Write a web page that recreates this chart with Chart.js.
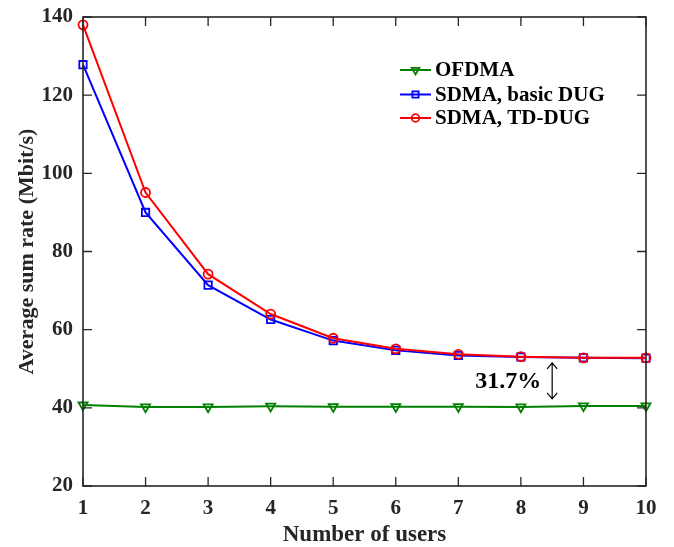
<!DOCTYPE html>
<html>
<head>
<meta charset="utf-8">
<script src="https://cdn.jsdelivr.net/npm/chart.js@4/dist/chart.umd.min.js"></script>
<style>
  html, body { margin: 0; padding: 0; background: #fff; }
  #wrap { width: 674px; height: 547px; }
</style>
</head>
<body>
<div id="wrap"><canvas id="c" width="674" height="547"></canvas></div>
<script>
// ---- data ----
const users = [1, 2, 3, 4, 5, 6, 7, 8, 9, 10];
const ofdma = [40.7, 40.2, 40.2, 40.4, 40.3, 40.3, 40.3, 40.2, 40.5, 40.5];
const sdmaBasic = [127.8, 90.0, 71.4, 62.6, 57.2, 54.7, 53.4, 53.0, 52.8, 52.7];
const sdmaTD = [138.0, 95.1, 74.2, 64.0, 57.8, 55.1, 53.7, 53.1, 52.8, 52.8];
const seriesNames = ['OFDMA', 'SDMA, basic DUG', 'SDMA, TD-DUG'];
const xTicks = [1, 2, 3, 4, 5, 6, 7, 8, 9, 10];
const yTicks = [20, 40, 60, 80, 100, 120, 140];
const gapLabel = '31.7%';
const gapX = [8.5];
const gapRange = [42.3, 51.5];

const FONT = "'Liberation Serif', 'Times New Roman', serif";
const TXT = '#262626';

const toPts = (ys) => users.map((u, i) => ({ x: u, y: ys[i] }));

const boxPlugin = {
  id: 'boxPlugin',
  afterDatasetsDraw(chart) {
    const { ctx, chartArea: a, scales: { x, y } } = chart;
    ctx.save();
    ctx.strokeStyle = TXT;
    ctx.lineWidth = 1.6;
    ctx.strokeRect(a.left, a.top, a.right - a.left, a.bottom - a.top);
    const tl = 9;
    ctx.lineWidth = 1.3;
    ctx.beginPath();
    xTicks.forEach(v => {
      const px = x.getPixelForValue(v);
      ctx.moveTo(px, a.bottom); ctx.lineTo(px, a.bottom - tl);
      ctx.moveTo(px, a.top); ctx.lineTo(px, a.top + tl);
    });
    yTicks.forEach(v => {
      const py = y.getPixelForValue(v);
      ctx.moveTo(a.left, py); ctx.lineTo(a.left + tl, py);
      ctx.moveTo(a.right, py); ctx.lineTo(a.right - tl, py);
    });
    ctx.stroke();

    // annotation arrow + label
    const ax = x.getPixelForValue(gapX[0]);
    const y1 = y.getPixelForValue(gapRange[1]);
    const y2 = y.getPixelForValue(gapRange[0]);
    ctx.strokeStyle = '#000';
    ctx.lineWidth = 1.2;
    ctx.beginPath();
    ctx.moveTo(ax, y1); ctx.lineTo(ax, y2);
    ctx.moveTo(ax - 5, y1 + 6); ctx.lineTo(ax, y1); ctx.lineTo(ax + 5, y1 + 6);
    ctx.moveTo(ax - 5, y2 - 6); ctx.lineTo(ax, y2); ctx.lineTo(ax + 5, y2 - 6);
    ctx.stroke();
    ctx.fillStyle = '#000';
    ctx.font = 'bold 24px ' + FONT;
    ctx.textAlign = 'right';
    ctx.textBaseline = 'middle';
    ctx.fillText(gapLabel, ax - 11, (y1 + y2) / 2 + 1);

    // legend
    const lx0 = 400, lx1 = 431, tx = 435;
    const rows = [70, 94.5, 118];
    ctx.textAlign = 'left';
    chart.data.datasets.forEach((ds, i) => {
      const ry = rows[i];
      ctx.strokeStyle = ds.borderColor;
      ctx.lineWidth = 2;
      ctx.beginPath();
      ctx.moveTo(lx0, ry); ctx.lineTo(lx1, ry);
      ctx.stroke();
      ctx.fillStyle = 'rgba(0,0,0,0)';
      ctx.lineWidth = 1.8;
      Chart.helpers.drawPoint(ctx, {
        pointStyle: ds.pointStyle, rotation: ds.pointRotation || 0,
        radius: ds.pointRadius * 0.85, borderWidth: 1.8
      }, (lx0 + lx1) / 2, ry);
      ctx.fillStyle = '#000';
      ctx.font = 'bold 21px ' + FONT;
      ctx.fillText(ds.label, tx, ry + 1);
    });
    ctx.restore();
  }
};

const mk = (label, data, color, style, radius, rot, order) => ({
  label, data: toPts(data), borderColor: color, backgroundColor: 'rgba(0,0,0,0)',
  pointBorderColor: color, pointBackgroundColor: 'rgba(0,0,0,0)',
  borderWidth: 2, pointStyle: style, pointRadius: radius, pointBorderWidth: 1.8,
  pointRotation: rot, tension: 0, clip: false, order
});

const noPad = (s) => { s.paddingTop = 0; s.paddingBottom = 0; s.paddingLeft = 0; s.paddingRight = 0; };

new Chart(document.getElementById('c'), {
  type: 'line',
  data: {
    datasets: [
      mk(seriesNames[0], ofdma, 'rgb(0,128,0)', 'triangle', 5.2, 180, 2),
      mk(seriesNames[1], sdmaBasic, 'rgb(0,0,255)', 'rect', 5.2, 0, 1),
      mk(seriesNames[2], sdmaTD, 'rgb(255,0,0)', 'circle', 4.5, 0, 0)
    ]
  },
  options: {
    responsive: false,
    animation: false,
    events: [],
    layout: { padding: { top: 17, right: 28, left: 0, bottom: 0 } },
    plugins: { legend: { display: false }, tooltip: { enabled: false } },
    scales: {
      x: {
        type: 'linear', min: 1, max: 10,
        afterBuildTicks: (s) => { s.ticks = xTicks.map(v => ({ value: v })); },
        afterFit: (s) => { s.height = 61; noPad(s); },
        grid: { display: false, drawTicks: false },
        border: { display: false },
        ticks: { padding: 10, color: TXT, font: { family: FONT, size: 21, weight: 'bold' }, maxRotation: 0 },
        title: { display: true, text: 'Number of users', color: TXT,
                 font: { family: FONT, size: 23, weight: 'bold', lineHeight: 1 }, padding: { top: 0, bottom: 0 } }
      },
      y: {
        type: 'linear', min: 20, max: 140,
        afterBuildTicks: (s) => { s.ticks = yTicks.map(v => ({ value: v })); },
        afterFit: (s) => { s.width = 83; noPad(s); },
        grid: { display: false, drawTicks: false },
        border: { display: false },
        ticks: { padding: 10, color: TXT, font: { family: FONT, size: 21, weight: 'bold' } },
        title: { display: true, text: 'Average sum rate (Mbit/s)', color: TXT,
                 font: { family: FONT, size: 22, weight: 'bold' }, padding: { top: 14, bottom: 0 } }
      }
    }
  },
  plugins: [boxPlugin]
});
</script>
</body>
</html>
